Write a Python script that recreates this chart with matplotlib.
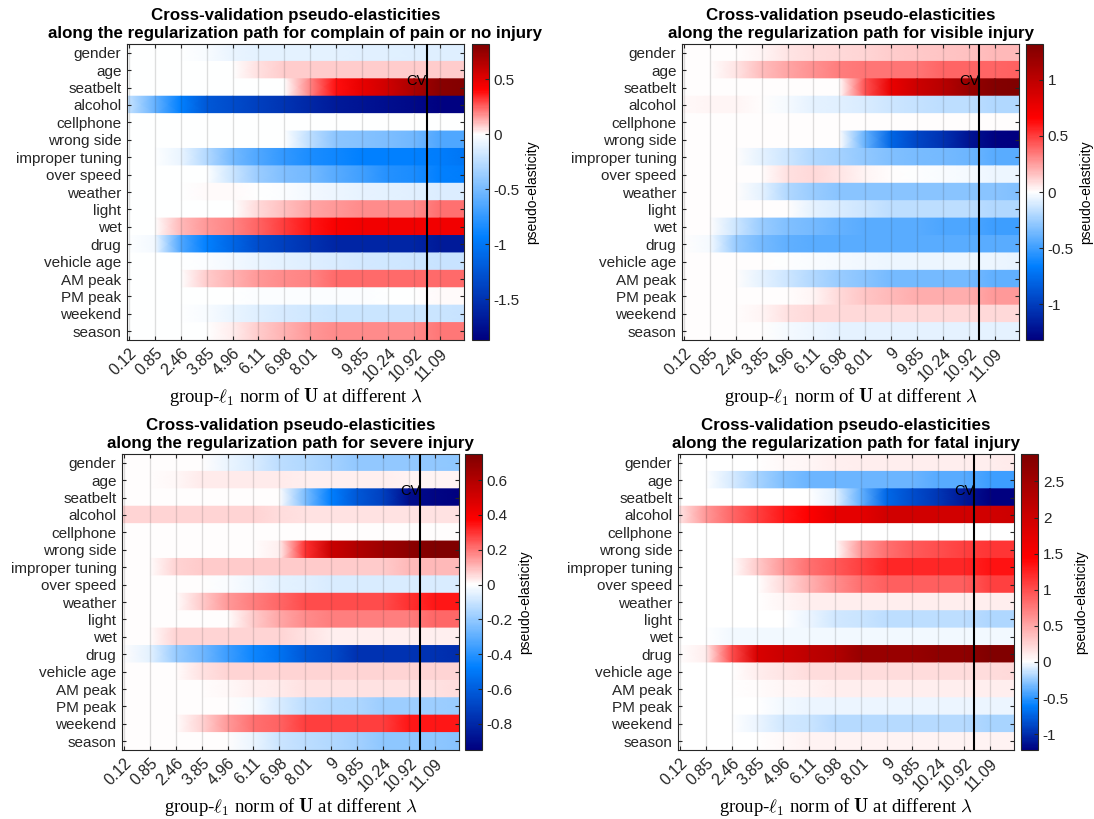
import numpy as np
import matplotlib
matplotlib.use('Agg')
import matplotlib.pyplot as plt
from matplotlib.colors import LinearSegmentedColormap
from matplotlib.ticker import FormatStrFormatter

plt.rcParams['font.family'] = ['Liberation Sans', 'DejaVu Sans']
plt.rcParams['font.serif'] = ['Liberation Serif', 'DejaVu Serif']
plt.rcParams['mathtext.fontset'] = 'cm'
plt.rcParams['axes.unicode_minus'] = False

features = ['gender', 'age', 'seatbelt', 'alcohol', 'cellphone', 'wrong side',
            'improper tuning', 'over speed', 'weather', 'light', 'wet', 'drug',
            'vehicle age', 'AM peak', 'PM peak', 'weekend', 'season']
tick_labels = ['0.12', '0.85', '2.46', '3.85', '4.96', '6.11', '6.98', '8.01',
               '9', '9.85', '10.24', '10.92', '11.09']
tick_cols = [1, 8, 15, 22, 29, 36, 43, 50, 57, 64, 71, 78, 85]
# columns where the values below were read (left edge, ticks, right edge)
sample_cols = [0.5, 8, 15, 22, 29, 36, 43, 50, 57, 64, 71, 78, 85, 91.5]

pain = [
    [0, 0, 0, -0.03, -0.08, -0.1, -0.1, -0.1, -0.1, -0.11, -0.11, -0.12, -0.12, -0.12],
    [0, 0, -0.01, -0.01, -0.01, 0.05, 0.08, 0.08, 0.08, 0.08, 0.08, 0.08, 0.08, 0.08],
    [0, 0, 0, 0, 0, 0, 0, 0.2, 0.38, 0.48, 0.56, 0.68, 0.78, 0.8],
    [-0.19, -0.56, -0.93, -1.22, -1.31, -1.4, -1.49, -1.58, -1.68, -1.72, -1.76, -1.8, -1.85, -1.85],
    [0, 0, 0, 0, 0, 0, 0, 0, 0, 0, 0, 0, 0, 0],
    [0, 0, 0, 0, 0, 0, 0, -0.25, -0.42, -0.45, -0.48, -0.52, -0.65, -0.65],
    [0, 0, -0.08, -0.28, -0.51, -0.65, -0.75, -0.84, -0.88, -0.93, -0.93, -0.93, -0.95, -1.0],
    [0, 0, 0, 0, -0.19, -0.37, -0.47, -0.51, -0.61, -0.7, -0.8, -0.84, -0.93, -0.95],
    [0, 0, 0, 0.01, 0.01, 0, -0.02, -0.05, -0.07, -0.09, -0.1, -0.11, -0.13, -0.13],
    [0, 0, 0, 0, 0, 0.06, 0.1, 0.14, 0.16, 0.18, 0.18, 0.18, 0.23, 0.23],
    [0, 0, 0.11, 0.16, 0.2, 0.25, 0.31, 0.37, 0.43, 0.45, 0.45, 0.45, 0.45, 0.45],
    [0, -0.05, -0.65, -0.93, -1.12, -1.31, -1.4, -1.5, -1.59, -1.59, -1.59, -1.59, -1.68, -1.68],
    [0, 0, 0, -0.02, -0.05, -0.08, -0.1, -0.12, -0.14, -0.16, -0.17, -0.18, -0.2, -0.2],
    [0, 0, 0, 0.08, 0.12, 0.16, 0.18, 0.2, 0.24, 0.24, 0.24, 0.24, 0.24, 0.24],
    [0, 0, 0, 0, -0.01, -0.02, -0.02, -0.02, -0.02, -0.02, -0.01, 0, 0.01, 0.01],
    [0, 0, 0, -0.03, -0.08, -0.12, -0.15, -0.17, -0.19, -0.19, -0.19, -0.19, -0.19, -0.2],
    [0, 0, 0, 0, 0.03, 0.08, 0.12, 0.16, 0.18, 0.18, 0.18, 0.18, 0.22, 0.22],
]

visible = [
    [0, 0, 0, 0.03, 0.07, 0.09, 0.1, 0.11, 0.13, 0.14, 0.15, 0.16, 0.18, 0.18],
    [0, 0, 0.07, 0.17, 0.23, 0.28, 0.33, 0.36, 0.36, 0.36, 0.4, 0.4, 0.4, 0.41],
    [0, 0, 0, 0, 0, 0, 0, 0.45, 0.77, 0.92, 1.03, 1.19, 1.29, 1.32],
    [0.02, 0.03, 0.03, 0, -0.03, -0.07, -0.08, -0.1, -0.13, -0.15, -0.17, -0.17, -0.2, -0.2],
    [0, 0, 0, 0, 0, 0, 0, 0, 0, 0, 0, 0, 0, 0],
    [0, 0, 0, 0, 0, 0, 0, -0.4, -0.79, -0.95, -1.06, -1.21, -1.3, -1.32],
    [0, 0, 0, -0.07, -0.13, -0.2, -0.23, -0.28, -0.33, -0.35, -0.36, -0.38, -0.43, -0.43],
    [0, 0, 0, 0, 0.08, 0.1, 0.07, 0.03, 0, -0.01, -0.02, -0.03, -0.05, -0.05],
    [0, 0, 0, -0.07, -0.2, -0.26, -0.3, -0.3, -0.3, -0.3, -0.3, -0.3, -0.3, -0.33],
    [0, 0, 0, 0, 0, -0.07, -0.1, -0.13, -0.17, -0.17, -0.17, -0.17, -0.2, -0.2],
    [0, 0, -0.13, -0.26, -0.33, -0.36, -0.4, -0.43, -0.43, -0.43, -0.46, -0.46, -0.5, -0.5],
    [0, -0.03, -0.26, -0.36, -0.41, -0.43, -0.43, -0.43, -0.43, -0.43, -0.43, -0.43, -0.43, -0.43],
    [0, 0, 0, 0, -0.01, -0.02, -0.03, -0.04, -0.05, -0.05, -0.05, -0.05, -0.05, -0.06],
    [0, 0, 0, -0.07, -0.13, -0.2, -0.26, -0.3, -0.36, -0.36, -0.36, -0.36, -0.41, -0.41],
    [0, 0, 0, 0, 0, 0.03, 0.1, 0.15, 0.18, 0.21, 0.21, 0.21, 0.26, 0.26],
    [0, 0, 0, 0.03, 0.08, 0.1, 0.1, 0.1, 0.1, 0.1, 0.1, 0.1, 0.1, 0.1],
    [0, 0, 0, 0, -0.03, -0.05, -0.07, -0.07, -0.07, -0.07, -0.07, -0.07, -0.07, -0.07],
]

severe = [
    [0, 0, 0, 0, -0.04, -0.07, -0.12, -0.14, -0.17, -0.2, -0.2, -0.2, -0.2, -0.21],
    [0, 0, 0.01, 0.03, 0.03, 0.03, 0.03, 0.02, 0.02, 0.02, 0.02, 0.015, 0.015, 0.015],
    [0, 0, 0, 0, 0, 0, 0, -0.24, -0.475, -0.62, -0.71, -0.9, -0.93, -0.95],
    [0.06, 0.06, 0.06, 0.06, 0.06, 0.06, 0.05, 0.04, 0.04, 0.04, 0.04, 0.04, 0.045, 0.045],
    [0, 0, 0, 0, 0, 0, 0, 0, 0, 0, 0, 0, 0, 0],
    [0, 0, 0, 0, 0, 0, 0.02, 0.3, 0.525, 0.6, 0.66, 0.71, 0.75, 0.75],
    [0, 0, 0.06, 0.075, 0.075, 0.075, 0.075, 0.075, 0.075, 0.075, 0.075, 0.1, 0.1, 0.1],
    [0, 0, 0, 0, -0.01, -0.03, -0.05, -0.06, -0.07, -0.07, -0.07, -0.07, -0.07, -0.07],
    [0, 0, 0, 0.075, 0.15, 0.19, 0.225, 0.26, 0.26, 0.26, 0.26, 0.3, 0.34, 0.34],
    [0, 0, 0, 0, 0, 0.075, 0.13, 0.17, 0.19, 0.19, 0.19, 0.19, 0.225, 0.225],
    [0, 0, 0.06, 0.06, 0.06, 0.06, 0.06, 0.04, 0.02, 0.02, 0.02, 0.02, 0.02, 0.02],
    [0, -0.05, -0.19, -0.26, -0.36, -0.45, -0.52, -0.62, -0.67, -0.76, -0.76, -0.76, -0.76, -0.78],
    [0, 0, 0, 0.04, 0.06, 0.06, 0.06, 0.06, 0.06, 0.06, 0.06, 0.06, 0.06, 0.06],
    [0, 0, 0, 0, 0.01, 0.02, 0.03, 0.04, 0.04, 0.045, 0.045, 0.045, 0.045, 0.05],
    [0, 0, 0, 0, 0, -0.02, -0.07, -0.12, -0.14, -0.15, -0.18, -0.18, -0.18, -0.19],
    [0, 0, 0, 0.06, 0.15, 0.21, 0.23, 0.28, 0.28, 0.28, 0.28, 0.34, 0.34, 0.34],
    [0, 0, 0, 0, 0, -0.04, -0.1, -0.12, -0.14, -0.17, -0.21, -0.21, -0.21, -0.22],
]

fatal = [
    [0, 0, 0, 0, 0.03, 0.06, 0.08, 0.1, 0.1, 0.1, 0.1, 0.1, 0.1, 0.12],
    [0, 0, -0.09, -0.21, -0.3, -0.34, -0.34, -0.34, -0.34, -0.34, -0.4, -0.4, -0.46, -0.46],
    [0, 0, 0, 0, 0, 0, -0.06, -0.37, -0.71, -0.85, -0.95, -1.1, -1.22, -1.22],
    [0.14, 0.58, 0.86, 1.08, 1.3, 1.44, 1.73, 1.73, 1.96, 1.96, 1.96, 1.96, 1.96, 2.0],
    [0, 0, 0, 0, 0, 0, 0, 0, 0, 0, 0, 0, 0, 0],
    [0, 0, 0, 0, 0, 0, 0, 0.58, 0.8, 0.94, 1.0, 1.08, 1.15, 1.15],
    [0, 0, 0, 0.29, 0.58, 0.8, 0.94, 1.08, 1.22, 1.22, 1.22, 1.22, 1.33, 1.33],
    [0, 0, 0, 0, 0.22, 0.43, 0.65, 0.8, 0.9, 0.9, 0.9, 0.9, 1.08, 1.08],
    [0, 0, 0, 0, 0.05, 0.1, 0.1, 0.1, 0.1, 0.1, 0.1, 0.1, 0.1, 0.1],
    [0, 0, 0, 0, 0, -0.05, -0.1, -0.12, -0.15, -0.15, -0.15, -0.15, -0.18, -0.18],
    [0, 0, -0.02, -0.02, -0.02, -0.02, -0.02, -0.02, -0.02, -0.02, -0.02, -0.02, -0.02, -0.02],
    [0, 0.1, 1.0, 1.87, 2.02, 2.16, 2.3, 2.6, 2.6, 2.6, 2.7, 2.7, 2.85, 2.85],
    [0, 0, 0, 0.1, 0.15, 0.19, 0.19, 0.19, 0.19, 0.19, 0.19, 0.19, 0.19, 0.22],
    [0, 0, 0, 0.02, 0.05, 0.07, 0.1, 0.1, 0.1, 0.1, 0.1, 0.1, 0.1, 0.1],
    [0, 0, 0, 0, -0.02, -0.04, -0.04, -0.04, -0.04, -0.04, -0.04, -0.04, -0.05, -0.05],
    [0, 0, 0, -0.05, -0.11, -0.13, -0.17, -0.17, -0.17, -0.17, -0.17, -0.17, -0.21, -0.21],
    [0, 0, 0, 0, 0.04, 0.07, 0.07, 0.07, 0.07, 0.07, 0.07, 0.07, 0.07, 0.07],
]

titles = ['complain of pain or no injury', 'visible injury', 'severe injury', 'fatal injury']
limits = [(-1.87, 0.82), (-1.32, 1.32), (-0.95, 0.75), (-1.22, 2.88)]
cbar_ticks = [[-1.5, -1, -0.5, 0, 0.5], [-1, -0.5, 0, 0.5, 1],
              [-0.8, -0.6, -0.4, -0.2, 0, 0.2, 0.4, 0.6],
              [-1, -0.5, 0, 0.5, 1, 1.5, 2, 2.5]]
cv_cols = [81.5, 80.7, 81, 80.7]

W, H = 1094, 819
fig = plt.figure(figsize=(W / 100, H / 100), dpi=100)


def px_box(left, right, top, bottom):
    return [left / W, 1 - bottom / H, (right - left) / W, (bottom - top) / H]


# pixel boxes: axes, colorbar
boxes = [
    ((127, 464, 44, 340), (472, 489, 44, 340)),
    ((682, 1019, 44, 340), (1026, 1043, 44, 340)),
    ((122, 459, 454, 750), (465, 482, 454, 750)),
    ((678, 1014, 454, 750), (1021, 1038, 454, 750)),
]

edge = (0.15, 0.15, 0.15)
rows = np.arange(1, len(features) + 1)
ys = np.column_stack([rows - 0.5, rows + 0.5]).ravel()

for vals, name, (vmin, vmax), cticks, cv, (abox, cbox) in zip(
        [pain, visible, severe, fatal], titles, limits, cbar_ticks, cv_cols, boxes):
    ax = fig.add_axes(px_box(*abox))
    cax = fig.add_axes(px_box(*cbox))

    z = -vmin / (vmax - vmin)
    cmap = LinearSegmentedColormap.from_list('pe', [
        (0, (0, 0, 0.5)), (z / 2, (0, 0.5, 1)), (z, (1, 1, 1)),
        (z + (1 - z) / 2, (1, 0, 0)), (1, (0.5, 0, 0))])

    C = np.repeat(np.array(vals), 2, axis=0)
    X, Y = np.meshgrid(sample_cols, ys)
    mesh = ax.pcolormesh(X, Y, C, shading='gouraud', cmap=cmap,
                         vmin=vmin, vmax=vmax, zorder=1)

    ax.set_xlim(0.5, 91.5)
    ax.set_ylim(17.5, 0.5)
    ax.set_xticks(tick_cols)
    ax.set_xticklabels(tick_labels, rotation=45, ha='right',
                       rotation_mode='anchor', fontsize=11.5)
    ax.set_yticks(rows)
    ax.set_yticklabels(features, fontsize=11)
    ax.tick_params(direction='in', top=True, right=True, length=3,
                   color=edge, labelcolor=(0.15, 0.15, 0.15), pad=4)
    ax.grid(axis='x', color=(0.15, 0.15, 0.15), alpha=0.15, linewidth=1)
    ax.set_axisbelow(False)
    for s in ax.spines.values():
        s.set_color(edge)

    ax.axvline(cv, color='k', linewidth=1.5, zorder=3)
    ax.text(cv, 2.6, 'CV', ha='right', va='center', fontsize=10.5, zorder=4)

    ax.set_title('Cross-validation pseudo-elasticities\n'
                 'along the regularization path for ' + name,
                 fontsize=12.2, fontweight='bold', pad=4, linespacing=1.3)
    ax.set_xlabel(r'group-$\ell_1$ norm of $\mathbf{U}$ at different $\lambda$',
                  fontfamily='serif', fontsize=13.5, labelpad=1)

    cb = fig.colorbar(mesh, cax=cax, ticks=cticks, format=FormatStrFormatter('%g'))
    cb.outline.set_edgecolor(edge)
    cax.tick_params(direction='in', length=3, labelsize=11, color=edge,
                    labelcolor=(0.15, 0.15, 0.15))
    cax.set_ylabel('pseudo-elasticity', fontsize=10, labelpad=4)

fig.savefig('out.png', dpi=100)
